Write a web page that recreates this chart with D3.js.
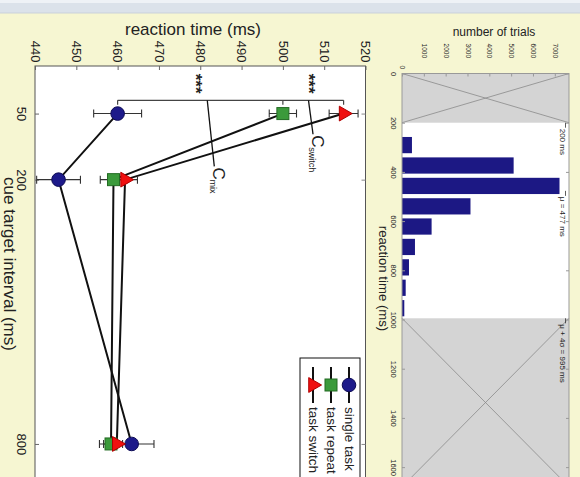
<!DOCTYPE html>
<html>
<head>
<meta charset="utf-8">
<script src="https://cdn.jsdelivr.net/npm/d3@7"></script>
<style>
  body { margin: 0; background: #f6f6d2; }
  svg { display: block; font-family: "Liberation Sans", Arial, sans-serif; }
</style>
</head>
<body>
<div id="chart"></div>
<script>
// cue-target interval conditions (ms)
const intervals = [50, 200, 800];

// mean reaction time (ms) and error bar half-widths per condition
const singleTask = [460.0, 445.7, 463.4];
const singleErr = [5.8, 5.3, 5.4];
const taskRepeat = [500.0, 459.0, 458.4];
const repeatErr = [3.3, 3.2, 2.8];
const taskSwitch = [514.7, 461.8, 459.8];
const switchErr = [3.5, 3.0, 3.2];

const seriesNames = ["single task", "task repeat", "task switch"];
const rtTicks = [440, 450, 460, 470, 480, 490, 500, 510, 520];

// significance bracket at cue interval 50 (rt values), star labels, cost labels
const bracketRts = [460, 500, 514.7];
const costLabels = [
    { name: "mix", rtFrom: 481.7, rtTo: 483.4, cti: 170 },
    { name: "switch", rtFrom: 506.2, rtTo: 507.3, cti: 97 }
];

// reaction time histogram
const binCenters = [291, 374, 457, 540, 622, 705, 788, 871, 954];
const binCounts = [456, 5114, 7215, 3137, 1356, 594, 320, 169, 105];
const histRtTicks = [0, 200, 400, 600, 800, 1000, 1200, 1400, 1600];
const trialTicks = [0, 1000, 2000, 3000, 4000, 5000, 6000, 7000];
const lowCut = 200, meanRt = 477, highCut = 995;

const width = 580, height = 477;
const ink = "#222";

const svg = d3.select("#chart").append("svg")
    .attr("width", width)
    .attr("height", height);

// window title strip
svg.append("rect").attr("width", width).attr("height", 13).attr("fill", "#dbe2ea");
svg.append("rect").attr("width", width).attr("height", 3).attr("fill", "#eef2f6");
svg.append("line").attr("x1", 0).attr("x2", width).attr("y1", 13).attr("y2", 13).attr("stroke", "#c9d1da");

// rotated text helper (reads top to bottom)
function rotText(g, x, y, txt, size, anchor, dy) {
    return g.append("text")
        .attr("transform", `translate(${x},${y}) rotate(90)`)
        .attr("text-anchor", anchor)
        .attr("dy", dy || 0)
        .attr("font-size", size)
        .attr("fill", ink)
        .text(txt);
}

// ---------- main plot ----------
const xRt = d3.scaleLinear().domain([440, 520]).range([35, 365.5]);
const yCti = d3.scaleLinear().domain([-58, 900]).range([66, 488]);

const main = svg.append("g");

main.append("rect")
    .attr("x", xRt.range()[0]).attr("y", 66)
    .attr("width", xRt.range()[1] - xRt.range()[0]).attr("height", 440)
    .attr("fill", "#fff").attr("stroke", "#555");

// rt axis along the top
main.append("g")
    .attr("transform", "translate(0,66)")
    .call(d3.axisTop(xRt).tickValues(rtTicks).tickSize(-4).tickFormat(d3.format("d")))
    .call(g => g.select(".domain").remove())
    .call(g => g.selectAll("line").attr("stroke", "#666"))
    .call(g => g.selectAll("text")
        .attr("x", -3.5).attr("y", 0).attr("dy", "0.36em")
        .attr("transform", "rotate(90)")
        .attr("text-anchor", "end")
        .attr("font-size", 13)
        .attr("font-family", null)
        .attr("fill", ink));

// cue interval axis on the left
main.append("g")
    .attr("transform", `translate(${xRt.range()[0]},0)`)
    .call(d3.axisLeft(yCti).tickValues(intervals).tickSize(-4))
    .call(g => g.select(".domain").remove())
    .call(g => g.selectAll("line").attr("stroke", "#666"))
    .call(g => g.selectAll("text")
        .attr("x", 0).attr("y", 18).attr("dy", 0)
        .attr("transform", "rotate(90)")
        .attr("text-anchor", "middle")
        .attr("font-size", 13)
        .attr("font-family", null)
        .attr("fill", ink));

main.append("g")
    .attr("transform", `translate(${xRt.range()[1]},0)`)
    .call(d3.axisRight(yCti).tickValues(intervals).tickSize(-4).tickFormat(""))
    .call(g => g.select(".domain").remove())
    .call(g => g.selectAll("line").attr("stroke", "#888"));

main.append("text")
    .attr("x", 193).attr("y", 35)
    .attr("text-anchor", "middle")
    .attr("font-size", 17)
    .attr("fill", ink)
    .text("reaction time (ms)");

rotText(main, 3.5, 264, "cue target interval (ms)", 17, "middle");

// series
const series = [
    { name: seriesNames[0], rts: singleTask, errs: singleErr, color: "#1d1a8a", edge: "#0d0b55", shape: "circle" },
    { name: seriesNames[1], rts: taskRepeat, errs: repeatErr, color: "#3b9a3b", edge: "#236b23", shape: "square" },
    { name: seriesNames[2], rts: taskSwitch, errs: switchErr, color: "#f01010", edge: "#b00000", shape: "triangle" }
];
series.forEach(s => {
    s.points = intervals.map((c, i) => ({ cti: c, rt: s.rts[i], err: s.errs[i] }));
});

const line = d3.line()
    .x(d => xRt(d.rt))
    .y(d => yCti(d.cti));

main.selectAll(".series-line")
    .data(series)
    .enter()
    .append("path")
    .attr("class", "series-line")
    .attr("d", d => line(d.points))
    .attr("fill", "none")
    .attr("stroke", "#111")
    .attr("stroke-width", 2);

// error bars
const errGroups = main.selectAll(".errs")
    .data(series)
    .enter()
    .append("g")
    .attr("class", "errs")
    .attr("stroke", "#333")
    .attr("stroke-width", 1.1);

errGroups.selectAll(".eb")
    .data(d => d.points)
    .enter()
    .append("path")
    .attr("class", "eb")
    .attr("fill", "none")
    .attr("d", d => {
        const y = yCti(d.cti), x0 = xRt(d.rt - d.err), x1 = xRt(d.rt + d.err);
        return `M${x0},${y}H${x1}M${x0},${y - 4}V${y + 4}M${x1},${y - 4}V${y + 4}`;
    });

// markers
function drawMarker(g, shape, color, edge) {
    if (shape === "circle") {
        g.append("circle").attr("r", 6.8).attr("fill", color).attr("stroke", edge);
    } else if (shape === "square") {
        g.append("rect").attr("x", -6).attr("y", -6).attr("width", 12).attr("height", 12)
            .attr("fill", color).attr("stroke", edge);
    } else {
        g.append("path").attr("d", d3.symbol(d3.symbolTriangle, 95)())
            .attr("transform", "rotate(90)")
            .attr("fill", color).attr("stroke", edge);
    }
}

series.forEach(s => {
    s.points.forEach(p => {
        const g = main.append("g").attr("transform", `translate(${xRt(p.rt)},${yCti(p.cti)})`);
        drawMarker(g, s.shape, s.color, s.edge);
    });
});

// significance bracket and stars
const bracketLevel = 20, bracketTick = 30, starLevel = -18;
main.append("path")
    .attr("fill", "none")
    .attr("stroke", "#444")
    .attr("stroke-width", 1.2)
    .attr("d", "M" + xRt(bracketRts[0]) + "," + yCti(bracketLevel) + "H" + xRt(bracketRts[2]) +
        bracketRts.map(r => `M${xRt(r)},${yCti(bracketLevel)}V${yCti(bracketTick)}`).join(""));

d3.pairs(bracketRts).forEach(([a, b]) => {
    rotText(main, xRt((a + b) / 2), yCti(starLevel), "***", 17, "middle", "0.58em")
        .attr("font-weight", "bold");
});

// cost annotations
costLabels.forEach(c => {
    const x1 = xRt(c.rtTo), y1 = yCti(c.cti);
    main.append("line")
        .attr("x1", xRt(c.rtFrom)).attr("y1", yCti(bracketLevel))
        .attr("x2", x1).attr("y2", y1)
        .attr("stroke", "#111").attr("stroke-width", 1.3);
    rotText(main, x1 - 1, y1 + 1, "C", 17, "start");
    rotText(main, x1 - 4.5, y1 + 13, c.name, 9, "start");
});

// legend
const legend = main.append("g");
legend.append("rect")
    .attr("x", 300).attr("y", 358).attr("width", 60).attr("height", 140)
    .attr("fill", "#fff").attr("stroke", "#111");

const legendX = d3.scalePoint().domain(seriesNames).range([349, 313]);
series.forEach(s => {
    const x = legendX(s.name);
    legend.append("line")
        .attr("x1", x).attr("x2", x).attr("y1", 367).attr("y2", 403)
        .attr("stroke", "#111").attr("stroke-width", 2);
    const g = legend.append("g").attr("transform", `translate(${x},385)`);
    drawMarker(g, s.shape, s.color, s.edge);
    rotText(legend, x, 407, s.name, 13.5, "start", "0.33em");
});

// ---------- histogram ----------
const xTrials = d3.scaleLinear().domain([0, 7650]).range([402, 569]);
const yHist = d3.scaleLinear().domain([0, 1680]).range([73.5, 486.8]);
const binWidth = 66;

const hist = svg.append("g");

hist.append("rect")
    .attr("x", xTrials.range()[0]).attr("y", yHist(0))
    .attr("width", xTrials.range()[1] - xTrials.range()[0]).attr("height", 430)
    .attr("fill", "#fff");

// excluded regions
[[0, lowCut], [highCut, 1680]].forEach(([a, b]) => {
    const x0 = xTrials.range()[0], x1 = xTrials.range()[1], y0 = yHist(a), y1 = yHist(b);
    hist.append("rect")
        .attr("x", x0).attr("y", y0).attr("width", x1 - x0).attr("height", y1 - y0)
        .attr("fill", "#d4d4d4");
    hist.append("path")
        .attr("d", `M${x0},${y0}L${x1},${y1}M${x0},${y1}L${x1},${y0}`)
        .attr("stroke", "#8a8a8a").attr("stroke-width", 0.8).attr("fill", "none");
});

hist.selectAll(".bar")
    .data(binCenters.map((c, i) => ({ center: c, count: binCounts[i] })))
    .enter()
    .append("rect")
    .attr("class", "bar")
    .attr("x", xTrials(0))
    .attr("y", d => yHist(d.center - binWidth / 2))
    .attr("width", d => xTrials(d.count) - xTrials(0))
    .attr("height", d => yHist(d.center + binWidth / 2) - yHist(d.center - binWidth / 2))
    .attr("fill", "#1c1884");

hist.append("rect")
    .attr("x", xTrials.range()[0]).attr("y", yHist(0))
    .attr("width", xTrials.range()[1] - xTrials.range()[0]).attr("height", 430)
    .attr("fill", "none").attr("stroke", "#999");

// trials axis along the top
hist.append("g")
    .attr("transform", `translate(0,${yHist(0)})`)
    .call(d3.axisTop(xTrials).tickValues(trialTicks).tickSize(-3).tickFormat(d3.format("d")))
    .call(g => g.select(".domain").remove())
    .call(g => g.selectAll("line").attr("stroke", "#999"))
    .call(g => g.selectAll("text")
        .attr("x", d => d === 0 ? -4.5 : -15.5).attr("y", 0).attr("dy", "0.36em")
        .attr("transform", "rotate(90)")
        .attr("text-anchor", "end")
        .attr("font-size", 6.5)
        .attr("font-family", null)
        .attr("fill", ink));

// rt axis on the left
hist.append("g")
    .attr("transform", `translate(${xTrials.range()[0]},0)`)
    .call(d3.axisLeft(yHist).tickValues(histRtTicks).tickSize(-3).tickFormat(d3.format("d")))
    .call(g => g.select(".domain").remove())
    .call(g => g.selectAll("line").attr("stroke", "#999"))
    .call(g => g.selectAll("text")
        .attr("x", 0).attr("y", 11).attr("dy", 0)
        .attr("transform", "rotate(90)")
        .attr("text-anchor", "middle")
        .attr("font-size", 7.5)
        .attr("font-family", null)
        .attr("fill", ink));

hist.append("g")
    .attr("transform", `translate(${xTrials.range()[1]},0)`)
    .call(d3.axisRight(yHist).tickValues(histRtTicks).tickSize(-3).tickFormat(""))
    .call(g => g.select(".domain").remove())
    .call(g => g.selectAll("line").attr("stroke", "#999"));

hist.append("text")
    .attr("x", 494).attr("y", 35.5)
    .attr("text-anchor", "middle")
    .attr("font-size", 12)
    .attr("fill", ink)
    .text("number of trials");

rotText(hist, 379, 278.5, "reaction time (ms)", 13.2, "middle");

// cut-off and mean markers on the right edge
const marks = [
    { rt: lowCut, text: "200 ms" },
    { rt: meanRt, text: "μ = 477 ms" },
    { rt: highCut, text: "μ + 4σ = 995 ms" }
];
marks.forEach(m => {
    const xr = xTrials.range()[1] - 6.5, y = yHist(m.rt);
    hist.append("line")
        .attr("x1", xr + 3).attr("x2", xr + 3).attr("y1", y).attr("y2", y + 5)
        .attr("stroke", "#333").attr("stroke-width", 0.8);
    rotText(hist, xr - 3, y + 6, m.text, 8, "start");
});
</script>
</body>
</html>
